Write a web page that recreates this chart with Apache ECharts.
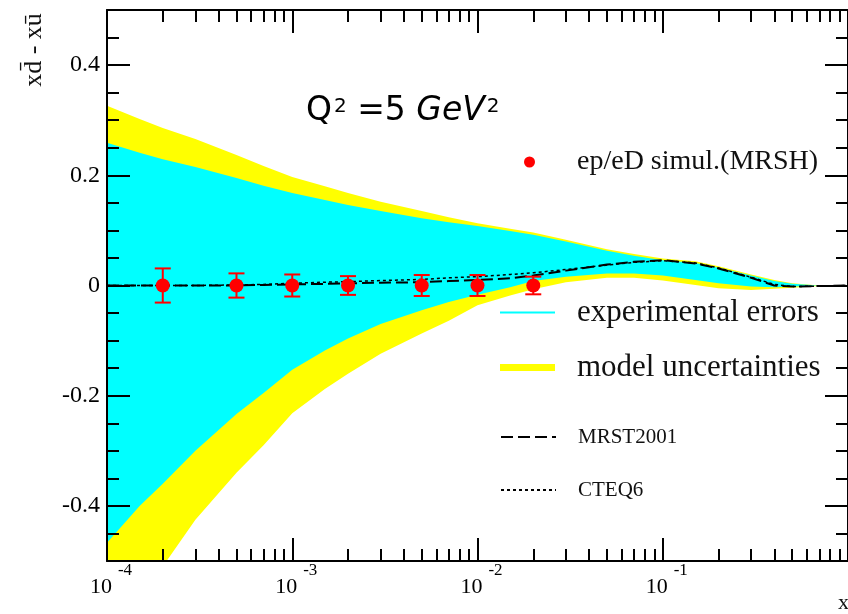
<!DOCTYPE html>
<html><head><meta charset="utf-8">
<script src="https://cdn.jsdelivr.net/npm/echarts@6/dist/echarts.min.js"></script>
<style>html,body{margin:0;padding:0;background:#fff}#c{width:848px;height:614px}</style>
</head><body><div id="c"></div>
<script>
// ---- data ----
const xGrid      = [1e-4, 1.5e-4, 2e-4, 3e-4, 5e-4, 7e-4, 1e-3, 1.5e-3, 2e-3, 3e-3, 5e-3, 7e-3, 1e-2, 1.5e-2, 2e-2, 3e-2, 5e-2, 7e-2, 0.1, 0.15, 0.2, 0.3, 0.4, 0.5, 0.7, 1];
const modelUpper = [0.326, 0.302, 0.286, 0.266, 0.237, 0.217, 0.197, 0.180, 0.168, 0.152, 0.135, 0.124, 0.113, 0.103, 0.096, 0.083, 0.066, 0.057, 0.049, 0.044, 0.035, 0.020, 0.010, 0.004, 0.000, 0.000];
const modelLower = [-0.640, -0.565, -0.510, -0.425, -0.340, -0.290, -0.232, -0.188, -0.160, -0.124, -0.087, -0.064, -0.036, -0.018, -0.007, 0.006, 0.014, 0.014, 0.009, 0.001, -0.005, -0.008, -0.006, -0.004, -0.001, 0.000];
const expUpper   = [0.259, 0.241, 0.229, 0.215, 0.195, 0.181, 0.168, 0.155, 0.146, 0.135, 0.122, 0.115, 0.108, 0.099, 0.092, 0.080, 0.063, 0.054, 0.046, 0.041, 0.032, 0.018, 0.008, 0.003, 0.000, 0.000];
const expLower   = [-0.467, -0.400, -0.360, -0.300, -0.233, -0.195, -0.153, -0.118, -0.096, -0.070, -0.045, -0.030, -0.017, -0.003, 0.008, 0.016, 0.022, 0.022, 0.018, 0.010, 0.004, -0.002, -0.003, -0.002, 0.000, 0.000];
const mrst2001   = [0, 0, 0, 0, 0, 0.001, 0.002, 0.003, 0.004, 0.005, 0.006, 0.008, 0.010, 0.013, 0.018, 0.027, 0.038, 0.043, 0.046, 0.040, 0.031, 0.014, 0.000, -0.002, -0.001, 0];
const cteq6      = [0, 0, 0, 0, 0.001, 0.002, 0.004, 0.006, 0.007, 0.009, 0.011, 0.014, 0.016, 0.020, 0.023, 0.029, 0.037, 0.042, 0.045, 0.041, 0.032, 0.015, 0.002, -0.002, -0.001, 0];
const simX   = [2e-4, 5e-4, 1e-3, 2e-3, 5e-3, 1e-2, 2e-2];
const simY   = [0, 0, 0, 0, 0, 0, 0];
const simErr = [0.031, 0.022, 0.020, 0.017, 0.019, 0.019, 0.016];

const yMajorTicks = [-0.4, -0.2, 0, 0.2, 0.4];
const yMinorTicks = [-0.45, -0.35, -0.3, -0.25, -0.15, -0.1, -0.05, 0.05, 0.1, 0.15, 0.25, 0.3, 0.35, 0.45];
const xDecades    = [-4, -3, -2, -1];
const xMinorMult  = [2, 3, 4, 5, 6, 7, 8, 9];

// ---- build ----
const pairs = (xs, ys) => xs.map((x, i) => [x, ys[i]]);
const xMinorLog = [];
xDecades.forEach(d => xMinorMult.forEach(m => xMinorLog.push(d + Math.log10(m))));

const SERIF = '"Liberation Serif", "DejaVu Serif", serif';
const black = '#000';

const chart = echarts.init(document.getElementById('c'), null, {renderer: 'canvas'});

const majorTick = {inside: true, length: 23, lineStyle: {color: black, width: 2}};
const minorTickStyle = {color: black, width: 2};
const axLine = {onZero: false, lineStyle: {color: black, width: 2}};
const noLine = {show: false, onZero: false};

function bandSeries(name, color, lower, upper) {
  return {
    name: name, type: 'custom', color: color, silent: true, z: 2, clip: true,
    itemStyle: {color: color},
    data: xGrid.map((x, i) => [x, lower[i], upper[i]]),
    encode: {x: 0, y: [1, 2]},
    renderItem: (params, api) => {
      if (params.dataIndex !== 0) return null;
      const pts = [];
      for (let i = 0; i < xGrid.length; i++) pts.push(api.coord([xGrid[i], upper[i]]));
      for (let i = xGrid.length - 1; i >= 0; i--) pts.push(api.coord([xGrid[i], lower[i]]));
      const cs = params.coordSys;
      return {
        type: 'polygon', shape: {points: pts}, style: {fill: color, stroke: null},
        clipPath: {type: 'rect', shape: {x: cs.x, y: cs.y, width: cs.width, height: cs.height}}
      };
    }
  };
}

const hideSymbol = {color: 'rgba(0,0,0,0)', borderColor: 'rgba(0,0,0,0)', borderWidth: 0, opacity: 0};

const option = {
  animation: false,
  backgroundColor: '#fff',
  grid: {left: 107, right: -2, top: 10, bottom: 53, containLabel: false},
  xAxis: [
    {
      type: 'log', logBase: 10, min: 1e-4, max: 1, position: 'bottom', z: 10,
      axisLine: axLine, axisTick: majorTick, splitLine: {show: false},
      axisLabel: {
        showMinLabel: true, showMaxLabel: false, margin: 1,
        formatter: v => '{b|10}{s|' + Math.round(Math.log10(v)) + '}',
        rich: {
          b: {fontFamily: SERIF, fontSize: 22, color: black, verticalAlign: 'bottom', padding: [14, 0, 0, 8]},
          s: {fontFamily: SERIF, fontSize: 17, color: black, verticalAlign: 'top', padding: [0, 0, 0, 6]}
        }
      }
    },
    {
      type: 'log', logBase: 10, min: 1e-4, max: 1, position: 'top', z: 10,
      axisLine: axLine, axisTick: majorTick, axisLabel: {show: false}, splitLine: {show: false}
    },
    {
      type: 'value', min: -4, max: 0, position: 'bottom', z: 10,
      axisLine: noLine,
      axisTick: {inside: true, length: 12, lineStyle: minorTickStyle, customValues: xMinorLog},
      axisLabel: {show: false}, splitLine: {show: false}
    },
    {
      type: 'value', min: -4, max: 0, position: 'top', z: 10,
      axisLine: noLine,
      axisTick: {inside: true, length: 12, lineStyle: minorTickStyle, customValues: xMinorLog},
      axisLabel: {show: false}, splitLine: {show: false}
    }
  ],
  yAxis: [
    {
      type: 'value', min: -0.5, max: 0.5, position: 'left', z: 10,
      axisLine: axLine,
      axisTick: Object.assign({customValues: yMajorTicks}, majorTick),
      axisLabel: {customValues: yMajorTicks, fontFamily: SERIF, fontSize: 24, color: black, margin: 7,
                  formatter: v => String(+v.toFixed(2))},
      splitLine: {show: false}
    },
    {
      type: 'value', min: -0.5, max: 0.5, position: 'left', z: 10,
      axisLine: noLine,
      axisTick: {inside: true, length: 12, lineStyle: minorTickStyle, customValues: yMinorTicks},
      axisLabel: {show: false}, splitLine: {show: false}
    },
    {
      type: 'value', min: -0.5, max: 0.5, position: 'right', z: 10,
      axisLine: axLine,
      axisTick: Object.assign({customValues: yMajorTicks}, majorTick),
      axisLabel: {show: false}, splitLine: {show: false}
    },
    {
      type: 'value', min: -0.5, max: 0.5, position: 'right', z: 10,
      axisLine: noLine,
      axisTick: {inside: true, length: 12, lineStyle: minorTickStyle, customValues: yMinorTicks},
      axisLabel: {show: false}, splitLine: {show: false}
    }
  ],
  legend: [
    {
      data: [{name: 'ep/eD simul.(MRSH)', icon: 'circle', itemStyle: {color: '#ff0000', opacity: 1}}],
      left: 524, top: 147, padding: 0, itemWidth: 11, itemHeight: 11, selectedMode: false,
      textStyle: {fontFamily: SERIF, fontSize: 28, color: '#111', lineHeight: 30, padding: [0, 0, 0, 37]}
    },
    {
      data: [{name: 'experimental errors', icon: 'rect', itemStyle: {color: '#00ffff', borderWidth: 0}}],
      left: 500, top: 297, padding: 0, itemWidth: 55, itemHeight: 2, selectedMode: false,
      textStyle: {fontFamily: SERIF, fontSize: 31, color: '#111', lineHeight: 30, padding: [0, 0, 0, 17]}
    },
    {
      data: [{name: 'model uncertainties', icon: 'rect', itemStyle: {color: '#ffff00', borderWidth: 0}}],
      left: 500, top: 352, padding: 0, itemWidth: 55, itemHeight: 7, selectedMode: false,
      textStyle: {fontFamily: SERIF, fontSize: 31, color: '#111', lineHeight: 30, padding: [0, 0, 0, 17]}
    },
    {
      data: [{name: 'MRST2001', itemStyle: hideSymbol}],
      left: 500, top: 425, padding: 0, itemWidth: 55, itemHeight: 14, selectedMode: false,
      textStyle: {fontFamily: SERIF, fontSize: 21, color: '#111', lineHeight: 24, padding: [0, 0, 0, 17]}
    },
    {
      data: [{name: 'CTEQ6', itemStyle: hideSymbol}],
      left: 500, top: 478, padding: 0, itemWidth: 55, itemHeight: 14, selectedMode: false,
      textStyle: {fontFamily: SERIF, fontSize: 21, color: '#111', lineHeight: 24, padding: [0, 0, 0, 17]}
    }
  ],
  graphic: [
    {
      type: 'text', x: 34, y: 50, rotation: Math.PI / 2, z: 20,
      style: {text: 'xd\u0304 - xu\u0304', font: '26px ' + SERIF, fill: '#111', align: 'center', verticalAlign: 'middle'}
    },
    {
      type: 'text', left: 306, top: 95, z: 20,
      style: {
        text: '{n|Q}{s|2}{n| =5 }{i|GeV}{s|2}',
        rich: {
          n: {font: '33px "DejaVu Sans", sans-serif', fill: '#000', verticalAlign: 'bottom'},
          i: {font: 'italic 33px "DejaVu Sans", sans-serif', fill: '#000', verticalAlign: 'bottom'},
          s: {font: '20px "DejaVu Sans", sans-serif', fill: '#000', verticalAlign: 'top', padding: [2, 0, 0, 2]}
        }
      }
    },
    {
      type: 'text', left: 838, top: 592, z: 20,
      style: {text: 'x', font: '22px ' + SERIF, fill: '#111'}
    }
  ],
  series: [
    bandSeries('model uncertainties', '#ffff00', modelLower, modelUpper),
    bandSeries('experimental errors', '#00ffff', expLower, expUpper),
    {
      name: 'MRST2001', type: 'line', data: pairs(xGrid, mrst2001), symbol: 'none', color: '#000',
      lineStyle: {color: '#000', width: 2, type: [12, 5]}, silent: true, z: 3
    },
    {
      name: 'CTEQ6', type: 'line', data: pairs(xGrid, cteq6), symbol: 'none', color: '#000',
      lineStyle: {color: '#000', width: 1.5, type: [3, 3]}, silent: true, z: 3
    },
    {
      name: '_errbars', type: 'custom', data: simX.map((x, i) => [x, simY[i], simErr[i]]),
      encode: {x: 0, y: 1}, silent: true, z: 4,
      renderItem: (params, api) => {
        const x = api.value(0), y = api.value(1), e = api.value(2);
        const t = api.coord([x, y + e]), b = api.coord([x, y - e]);
        const st = {stroke: '#ff0000', lineWidth: 2};
        return {type: 'group', children: [
          {type: 'line', shape: {x1: t[0], y1: t[1], x2: b[0], y2: b[1]}, style: st},
          {type: 'line', shape: {x1: t[0] - 8, y1: t[1], x2: t[0] + 8, y2: t[1]}, style: st},
          {type: 'line', shape: {x1: b[0] - 8, y1: b[1], x2: b[0] + 8, y2: b[1]}, style: st}
        ]};
      }
    },
    {
      name: 'ep/eD simul.(MRSH)', type: 'scatter', data: pairs(simX, simY), symbol: 'circle', symbolSize: 14,
      color: '#ff0000', itemStyle: {color: '#ff0000', opacity: 1}, silent: true, z: 5
    }
  ]
};
chart.setOption(option);
</script>
</body></html>
